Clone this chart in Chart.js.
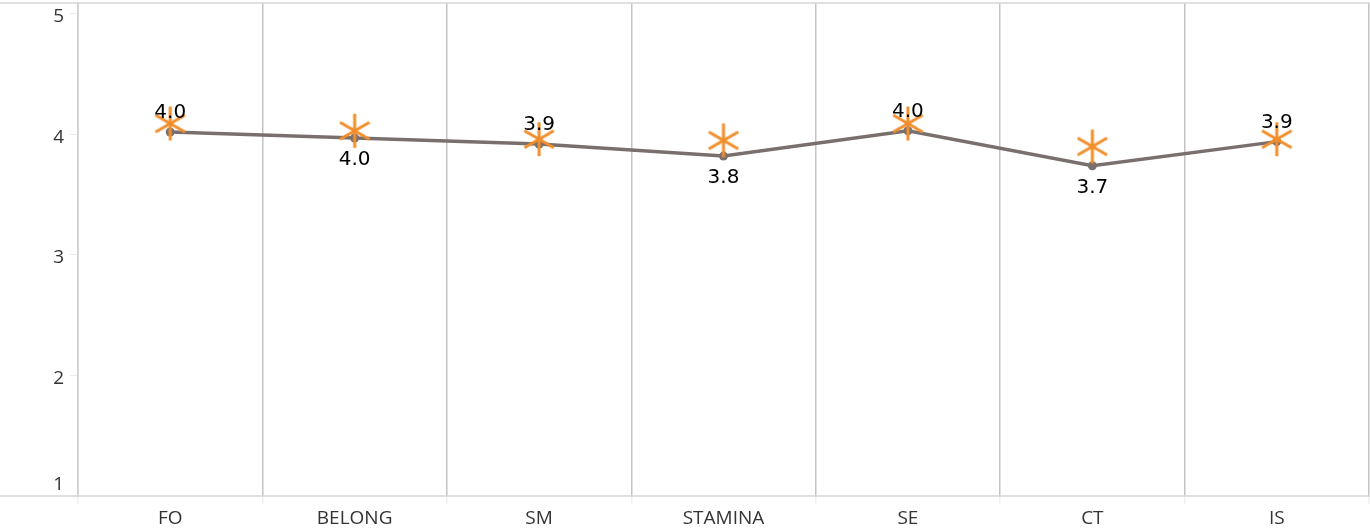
<!DOCTYPE html>
<html>
<head>
<meta charset="utf-8">
<script src="https://cdn.jsdelivr.net/npm/chart.js@4.4.1/dist/chart.umd.min.js"></script>
<style>
  html, body { margin: 0; padding: 0; background: #fff; }
  #wrap { width: 1370px; height: 531px; }
</style>
</head>
<body>
<div id="wrap"><canvas id="chart" width="1370" height="531"></canvas></div>
<script>
const categories = ["FO", "BELONG", "SM", "STAMINA", "SE", "CT", "IS"];
const meanValues = [4.02, 3.97, 3.92, 3.82, 4.03, 3.74, 3.94];
const starValues = [4.09, 4.03, 3.96, 3.95, 4.09, 3.90, 3.96];
const yTicks = [1, 2, 3, 4, 5];

// six-armed asterisk used as point style
function makeStar(r, color, lw) {
  const size = Math.ceil(r * 2 + lw * 2);
  const c = document.createElement("canvas");
  c.width = size; c.height = size;
  const g = c.getContext("2d");
  g.strokeStyle = color;
  g.lineWidth = lw;
  const m = size / 2;
  for (const a of [90, 30, -30]) {
    const dx = Math.cos(a * Math.PI / 180) * r;
    const dy = Math.sin(a * Math.PI / 180) * r;
    g.beginPath();
    g.moveTo(m - dx, m - dy);
    g.lineTo(m + dx, m + dy);
    g.stroke();
  }
  return c;
}
const star = makeStar(17, "#f28e2b", 3);

// frame lines spanning the full width, plus value labels
const framePlugin = {
  id: "frame",
  beforeDatasetsDraw(chart) {
    const ctx = chart.ctx;
    const a = chart.chartArea;
    ctx.save();
    ctx.strokeStyle = "#d6d6d6";
    ctx.lineWidth = 1.5;
    ctx.beginPath();
    ctx.moveTo(0, a.top); ctx.lineTo(chart.width, a.top);
    ctx.moveTo(0, a.bottom); ctx.lineTo(chart.width, a.bottom);
    ctx.stroke();
    ctx.restore();
  },
  afterDatasetsDraw(chart) {
    const ctx = chart.ctx;
    const meta = chart.getDatasetMeta(1);
    ctx.save();
    ctx.font = "20px 'DejaVu Sans'";
    ctx.fillStyle = "#000";
    ctx.textAlign = "center";
    ctx.textBaseline = "middle";
    meta.data.forEach((pt, i) => {
      const dy = i % 2 === 0 ? -19 : 22;
      ctx.fillText(meanValues[i].toFixed(1), pt.x, pt.y + dy);
    });
    ctx.restore();
  }
};

new Chart(document.getElementById("chart"), {
  type: "line",
  data: {
    labels: categories,
    datasets: [
      {
        label: "target",
        data: starValues,
        showLine: false,
        pointStyle: star,
        pointRadius: 17,
        pointHoverRadius: 17,
        clip: false,
      },
      {
        label: "mean",
        data: meanValues,
        borderColor: "#79706e",
        backgroundColor: "#79706e",
        borderWidth: 3.5,
        pointRadius: 4.5,
        pointHoverRadius: 4.5,
        pointBackgroundColor: "#79706e",
        pointBorderWidth: 0,
        tension: 0,
        clip: false,
      },
    ],
  },
  options: {
    responsive: false,
    animation: false,
    layout: { autoPadding: false, padding: { top: 3, right: 1, left: 0, bottom: 0 } },
    plugins: { legend: { display: false }, tooltip: { enabled: false } },
    scales: {
      x: {
        offset: true,
        grid: {
          offset: true,
          color: "#c4c4c4",
          lineWidth: 1.5,
          drawTicks: true,
          tickLength: 8,
          tickColor: "#f0f0f0",
        },
        border: { display: false },
        ticks: {
          color: "#333",
          font: { family: "'Open Sans'", size: 19 },
          padding: 3,
          maxRotation: 0,
        },
        afterFit(scale) {
          scale.height = 35;
          scale.paddingLeft = 0;
          scale.paddingRight = 0;
        },
      },
      y: {
        min: 1,
        max: 5.09,
        afterBuildTicks(scale) { scale.ticks = yTicks.map(v => ({ value: v })); },
        grid: {
          drawOnChartArea: false,
          drawTicks: true,
          tickLength: 8,
          tickColor: "#ececec",
        },
        border: { color: "#cfcfcf", width: 1.5 },
        ticks: {
          color: "#333",
          font: { family: "'Open Sans'", size: 19, lineHeight: 1.5 },
          padding: 6,
          labelOffset: 3,
          callback: (v) => (v === 1 ? ["1", ""] : String(v)),
        },
        afterFit(scale) {
          scale.width = 78;
          scale.paddingTop = 0;
          scale.paddingBottom = 0;
        },
      },
    },
  },
  plugins: [framePlugin],
});
</script>
</body>
</html>
